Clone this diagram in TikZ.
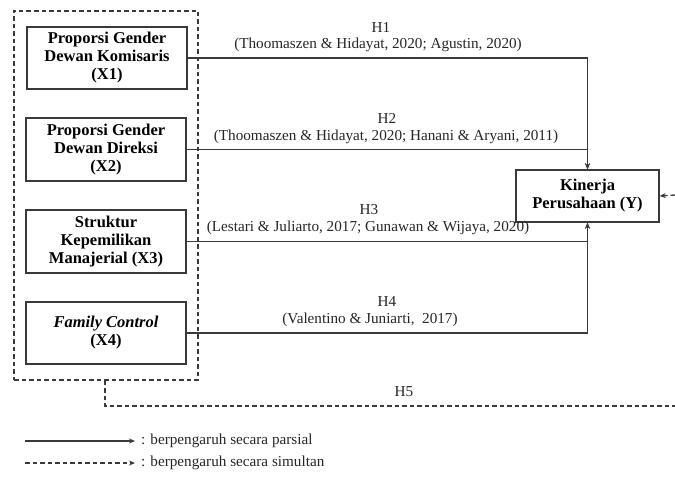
\documentclass[tikz,border=0pt]{standalone}
\usepackage{fontspec}
\setmainfont{Liberation Serif}
\usetikzlibrary{arrows.meta}
\definecolor{ln}{HTML}{3A3A3A}
\tikzset{
  varbox/.style={draw=ln, line width=1.4pt, align=center, font=\fontsize{16.5}{18}\selectfont\bfseries, inner sep=0pt},
  cite/.style={font=\fontsize{15.2}{17}\selectfont, inner sep=0pt, text=black!85},
  tip/.style={-{Stealth[length=6pt,width=5pt]}},
  link/.style={draw=ln, line width=1.5pt, tip},
  dlink/.style={draw=ln, line width=1.3pt, dash pattern=on 4.5pt off 3pt},
}
\begin{document}
\begin{tikzpicture}[x=1pt,y=-1pt]
\useasboundingbox (0,0) rectangle (675,478);
% outer dashed group
\node[dlink, minimum width=184pt, minimum height=369pt, inner sep=0pt] (grp) at (106,195.5) {};
% variable boxes
\node[varbox, minimum width=160pt, minimum height=62pt] (x1) at (107,58) {Proporsi Gender\\Dewan Komisaris\\(X1)};
\node[varbox, minimum width=160pt, minimum height=63pt] (x2) at (106,149.5) {Proporsi Gender\\Dewan Direksi\\(X2)};
\node[varbox, minimum width=160pt, minimum height=63pt] (x3) at (106,241.5) {Struktur\\Kepemilikan\\Manajerial (X3)};
\node[varbox, minimum width=160pt, minimum height=62pt] (x4) at (106,333) {\textit{Family Control}\\(X4)};
\node[varbox, minimum width=143pt, minimum height=52pt] (y) at (587.5,196) {Kinerja\\Perusahaan (Y)};
% connectors
\draw[link] (x1.east) -| (y.north);
\draw[link] (x2.east) -| (y.north);
\draw[link] (x3.east) -| (y.south);
\draw[link] (x4.east) -| (y.south);
% H5 simultaneous
\coordinate (h5a) at (105,406);
\coordinate (h5end) at (675,406);
\coordinate (h5in) at (675,195);
\draw[dlink] (grp.south -| h5a) -- (h5a) -- (h5end);
\draw[dlink, tip] (h5in) -- (y.east);
% labels
\node[cite] (h1) at (381,27) {H1};
\node[cite] (c1) at (378,45) {(Thoomaszen \& Hidayat, 2020; Agustin, 2020)};
\node[cite] (h2) at (387,118) {H2};
\node[cite] (c2) at (386,137) {(Thoomaszen \& Hidayat, 2020; Hanani \& Aryani, 2011)};
\node[cite] (h3) at (369,210) {H3};
\node[cite] (c3) at (368,228) {(Lestari \& Juliarto, 2017; Gunawan \& Wijaya, 2020)};
\node[cite] (h4) at (387,301) {H4};
\node[cite] (c4) at (370,320) {(Valentino \& Juniarti,\ \ 2017)};
\node[cite] (h5) at (404,392) {H5};
% legend
\coordinate (la) at (25,441);
\coordinate (lb) at (135,441);
\coordinate (lc) at (25,463);
\coordinate (ld) at (135,463);
\draw[link] (la) -- (lb);
\draw[dlink, tip] (lc) -- (ld);
\node[cite, anchor=west] (t1) at (141,441) {: berpengaruh secara parsial};
\node[cite, anchor=west] (t2) at (141,463) {: berpengaruh secara simultan};
\end{tikzpicture}
\end{document}
